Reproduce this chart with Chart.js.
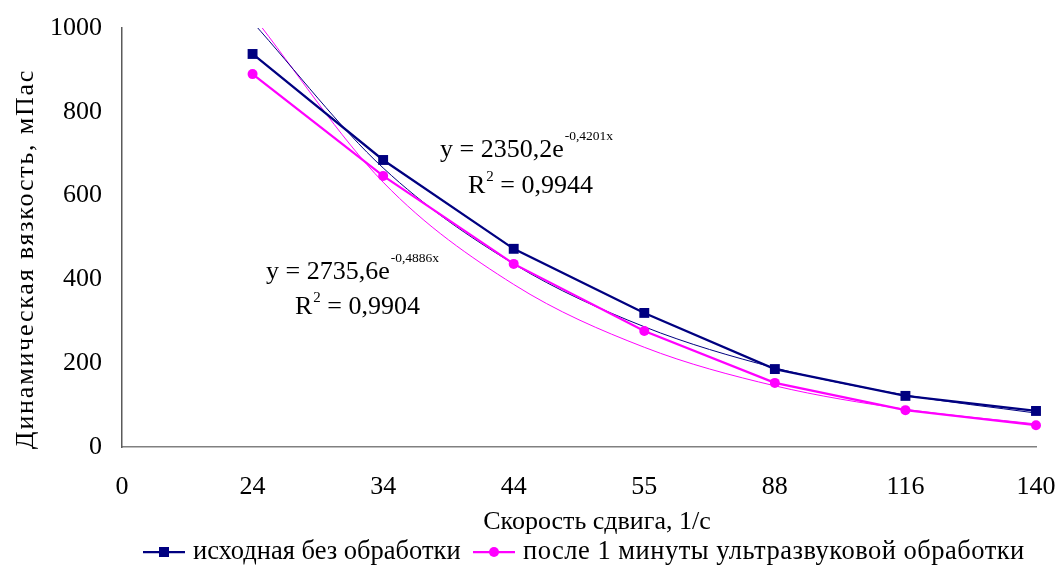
<!DOCTYPE html>
<html><head><meta charset="utf-8">
<script src="https://cdn.jsdelivr.net/npm/chart.js@4/dist/chart.umd.min.js"></script>
<style>html,body{margin:0;padding:0;background:#fff}</style>
</head><body>
<canvas id="c" width="1060" height="565"></canvas>
<script>
// ---- data ----
const categories = ['0', '24', '34', '44', '55', '88', '116', '140'];
const seriesNames = ['исходная без обработки', 'после 1 минуты ультразвуковой обработки'];
const untreated = [null, 938, 685, 473, 320, 186, 122, 86];
const treated = [null, 890, 647, 437, 277, 153, 88, 52];
const untreatedTrend = [null, 1014, 666, 437, 287, 189, 124, 81];
const treatedTrend = [null, 1030, 632, 388, 238, 146, 90, 55];
const yTickValues = [0, 200, 400, 600, 800, 1000];
const xTitle = 'Скорость сдвига, 1/с';
const yTitle = 'Динамическая вязкость, мПас';
const eqUntreated = ['y = 2350,2e', '-0,4201x', 'R', '2', ' = 0,9944'];
const eqTreated = ['y = 2735,6e', '-0,4886x', 'R', '2', ' = 0,9904'];

const NAVY = '#000080', MAG = '#FF00FF';
const FONT = '"Liberation Serif", "Times New Roman", serif';
const FS = 26;

const overlay = {
  id: 'overlay',
  afterDatasetsDraw(chart) {
    const ctx = chart.ctx;
    ctx.save();
    ctx.fillStyle = '#000';
    ctx.textBaseline = 'alphabetic';
    ctx.textAlign = 'left';
    function eq(e, x1, y1, x2, y2) {
      ctx.font = FS + 'px ' + FONT;
      ctx.fillText(e[0], x1, y1);
      let w = ctx.measureText(e[0]).width;
      ctx.font = '13.5px ' + FONT;
      ctx.fillText(e[1], x1 + w + 1, y1 - 17);
      ctx.font = FS + 'px ' + FONT;
      ctx.fillText(e[2], x2, y2);
      let w2 = ctx.measureText(e[2]).width;
      ctx.font = '15px ' + FONT;
      ctx.fillText(e[3], x2 + w2 + 1, y2 - 12);
      let w3 = ctx.measureText(e[3]).width;
      ctx.font = FS + 'px ' + FONT;
      ctx.fillText(e[4], x2 + w2 + w3 + 1, y2);
    }
    eq(eqUntreated, 440, 157, 468, 193);
    eq(eqTreated, 266, 279, 295, 314);
    ctx.restore();
  },
  afterDraw(chart) {
    const ctx = chart.ctx;
    ctx.save();
    // y title
    ctx.font = FS + 'px ' + FONT;
    ctx.fillStyle = '#000';
    ctx.textAlign = 'center';
    ctx.textBaseline = 'middle';
    ctx.translate(26, 259);
    ctx.rotate(-Math.PI / 2);
    if ('letterSpacing' in ctx) {
      ctx.letterSpacing = '1.8px';
      ctx.fillText(yTitle, 0, 0);
    } else {
      ctx.scale(1.15, 1);
      ctx.fillText(yTitle, 0, 0);
    }
    ctx.restore();
    ctx.save();
    ctx.font = FS + 'px ' + FONT;
    ctx.fillStyle = '#000';
    ctx.textAlign = 'center';
    ctx.textBaseline = 'middle';
    ctx.fillText(xTitle, 597, 522);
    // legend box covering title bottom
    ctx.fillStyle = '#fff';
    ctx.fillRect(135, 539, 900, 26);
    const ly = 552;
    ctx.font = '26.5px ' + FONT;
    function item(x, color, style, text, spacing) {
      ctx.strokeStyle = color;
      ctx.lineWidth = 2.25;
      ctx.beginPath();
      ctx.moveTo(x, ly);
      ctx.lineTo(x + 42, ly);
      ctx.stroke();
      ctx.fillStyle = color;
      if (style === 'rect') {
        ctx.fillRect(x + 21 - 5, ly - 5, 10, 10);
      } else {
        ctx.beginPath();
        ctx.arc(x + 21, ly, 5, 0, Math.PI * 2);
        ctx.fill();
      }
      ctx.fillStyle = '#000';
      ctx.textAlign = 'left';
      if ('letterSpacing' in ctx) ctx.letterSpacing = spacing;
      ctx.fillText(text, x + 50, ly);
      if ('letterSpacing' in ctx) ctx.letterSpacing = '0px';
    }
    item(143, NAVY, 'rect', seriesNames[0], '0px');
    item(473, MAG, 'circle', seriesNames[1], '0.5px');
    ctx.restore();
  }
};

new Chart(document.getElementById('c'), {
  type: 'line',
  data: {
    labels: categories,
    datasets: [
      { label: seriesNames[0], data: untreated, borderColor: NAVY, backgroundColor: NAVY,
        borderWidth: 2.25, pointStyle: 'rect', pointRadius: 7, pointBorderWidth: 0,
        pointBackgroundColor: NAVY, tension: 0 },
      { label: seriesNames[1], data: treated, borderColor: MAG, backgroundColor: MAG,
        borderWidth: 2.25, pointStyle: 'circle', pointRadius: 5, pointBorderWidth: 0,
        pointBackgroundColor: MAG, tension: 0 },
      { label: 'trend1', data: untreatedTrend, borderColor: NAVY, borderWidth: 1,
        pointRadius: 0, cubicInterpolationMode: 'monotone' },
      { label: 'trend2', data: treatedTrend, borderColor: MAG, borderWidth: 1,
        pointRadius: 0, cubicInterpolationMode: 'monotone' }
    ]
  },
  options: {
    responsive: false,
    animation: false,
    events: [],
    layout: { padding: { left: 0, right: 24, top: 28, bottom: 0 } },
    plugins: { legend: { display: false }, tooltip: { enabled: false } },
    scales: {
      x: {
        type: 'category',
        offset: false,
        grid: { display: false, drawTicks: false },
        border: { display: true, color: '#808080', width: 1.5 },
        ticks: { color: '#000', font: { family: FONT, size: FS }, padding: 25, maxRotation: 0, autoSkip: false },
        afterFit(s) { s.height = 118; s.paddingLeft = 0; s.paddingRight = 0; }
      },
      y: {
        min: 0, max: 1000,
        grid: { display: false, drawTicks: false },
        border: { display: true, color: '#5a5a5a', width: 1.5 },
        afterBuildTicks(s) { s.ticks = yTickValues.map(v => ({ value: v })); },
        ticks: { color: '#000', font: { family: FONT, size: FS }, padding: 20,
                 callback: (v) => String(v) },
        afterFit(s) { s.width = 122; s.paddingTop = 0; s.paddingBottom = 0; }
      }
    }
  },
  plugins: [overlay]
});
</script>
</body></html>
